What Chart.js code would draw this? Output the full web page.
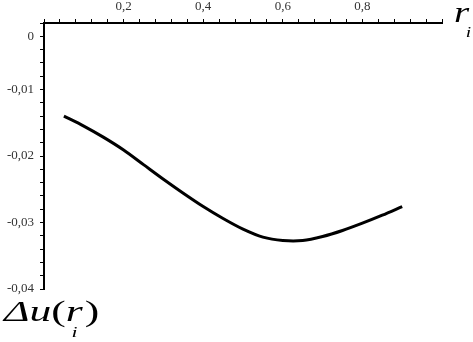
<!DOCTYPE html>
<html>
<head>
<meta charset="utf-8">
<script src="https://cdn.jsdelivr.net/npm/chart.js@4/dist/chart.umd.min.js"></script>
<style>
  html, body { margin: 0; padding: 0; background: #fff; }
  #wrap { width: 473px; height: 342px; }
</style>
</head>
<body>
<div id="wrap"><canvas id="myChart" width="473" height="342"></canvas></div>
<script>
// r_i values and the matching Δu(r_i)
const radii = [0.05, 0.1, 0.15, 0.2, 0.25, 0.3, 0.35, 0.4, 0.45, 0.5, 0.55, 0.6, 0.65, 0.7, 0.75, 0.8, 0.85, 0.9]
const deltaU = [-0.0140, -0.0155, -0.0172, -0.0191, -0.0213, -0.0235, -0.0256, -0.0276, -0.0294, -0.0310, -0.0322, -0.0327, -0.0327, -0.0321, -0.0312, -0.0301, -0.0289, -0.0276]
const xLabelTicks = [0.2, 0.4, 0.6, 0.8]
const yLabelTicks = [-0.01, -0.02, -0.03, -0.04]

const serif = 'Liberation Serif'
const fmt = (v) => String(Math.round(v * 100) / 100).replace('.', ',')
const near = (v, list) => list.some((t) => Math.abs(t - v) < 1e-6)

// draws a run of [text, font, dx, dy, advance] pieces, stretched sideways like the scanned original
const drawPieces = (ctx, x0, y0, sx, pieces) => {
  ctx.save()
  ctx.translate(x0, y0)
  ctx.scale(sx, 1)
  let x = 0
  pieces.forEach(([text, font, dx = 0, dy = 0, advance = true]) => {
    ctx.font = font
    ctx.fillText(text, x + dx, dy)
    if (advance) x += ctx.measureText(text).width + dx
  })
  ctx.restore()
}

// axis names drawn in Maple style: r_i at the right end, Δu(r_i) under the y axis
const axisNames = {
  id: 'axisNames',
  afterDraw(chart) {
    const { ctx } = chart
    ctx.save()
    ctx.fillStyle = '#000'
    ctx.textBaseline = 'alphabetic'
    drawPieces(ctx, 454, 22, 1.3, [
      ['r', `italic 30px "${serif}"`, 0, 0, false],
      ['i', `italic 15px "${serif}"`, 9, 15],
    ])
    drawPieces(ctx, 4, 321, 1.45, [
      ['Δu', `italic 30px "${serif}"`],
      ['(', `30px "${serif}"`],
      ['r', `italic 30px "${serif}"`, 0, 0, false],
      ['i', `italic 15px "${serif}"`, 4, 16],
      [')', `30px "${serif}"`, 5],
    ])
    ctx.restore()
  },
}

const ctx = document.getElementById('myChart').getContext('2d')
const myChart = new Chart(ctx, {
  type: 'line',
  data: {
    datasets: [
      {
        data: radii.map((r, i) => ({ x: r, y: deltaU[i] })),
        borderColor: '#000',
        borderWidth: 3,
        pointRadius: 0,
        tension: 0.3,
        fill: false,
      },
    ],
  },
  options: {
    responsive: false,
    animation: false,
    layout: { padding: { top: 0, right: 31, bottom: 53, left: 0 } },
    plugins: {
      legend: { display: false },
      tooltip: { enabled: false },
    },
    scales: {
      x: {
        type: 'linear',
        position: 'top',
        min: 0,
        max: 1,
        afterFit: (scale) => { scale.height = 23 },
        border: { color: '#000', width: 2 },
        grid: {
          drawOnChartArea: false,
          color: '#000',
          tickLength: 4,
          lineWidth: 1,
        },
        ticks: {
          stepSize: 0.04,
          autoSkip: false,
          maxRotation: 0,
          padding: 5,
          color: '#333',
          font: { family: serif, size: 13 },
          callback: (v) => (near(v, xLabelTicks) ? fmt(v) : ''),
        },
      },
      y: {
        min: -0.04,
        max: 0,
        afterFit: (scale) => { scale.width = 44 },
        border: { color: '#000', width: 2 },
        grid: {
          drawOnChartArea: false,
          color: '#000',
          tickLength: 4,
          lineWidth: 1,
        },
        ticks: {
          stepSize: 0.002,
          autoSkip: false,
          padding: 6,
          color: '#333',
          font: { family: serif, size: 13 },
          // Maple puts the "0" label one minor tick below the axis corner
          callback: (v) => {
            if (near(v, [-0.002])) return '0'
            return near(v, yLabelTicks) ? fmt(v) : ''
          },
        },
      },
    },
  },
  plugins: [axisNames],
})
</script>
</body>
</html>
